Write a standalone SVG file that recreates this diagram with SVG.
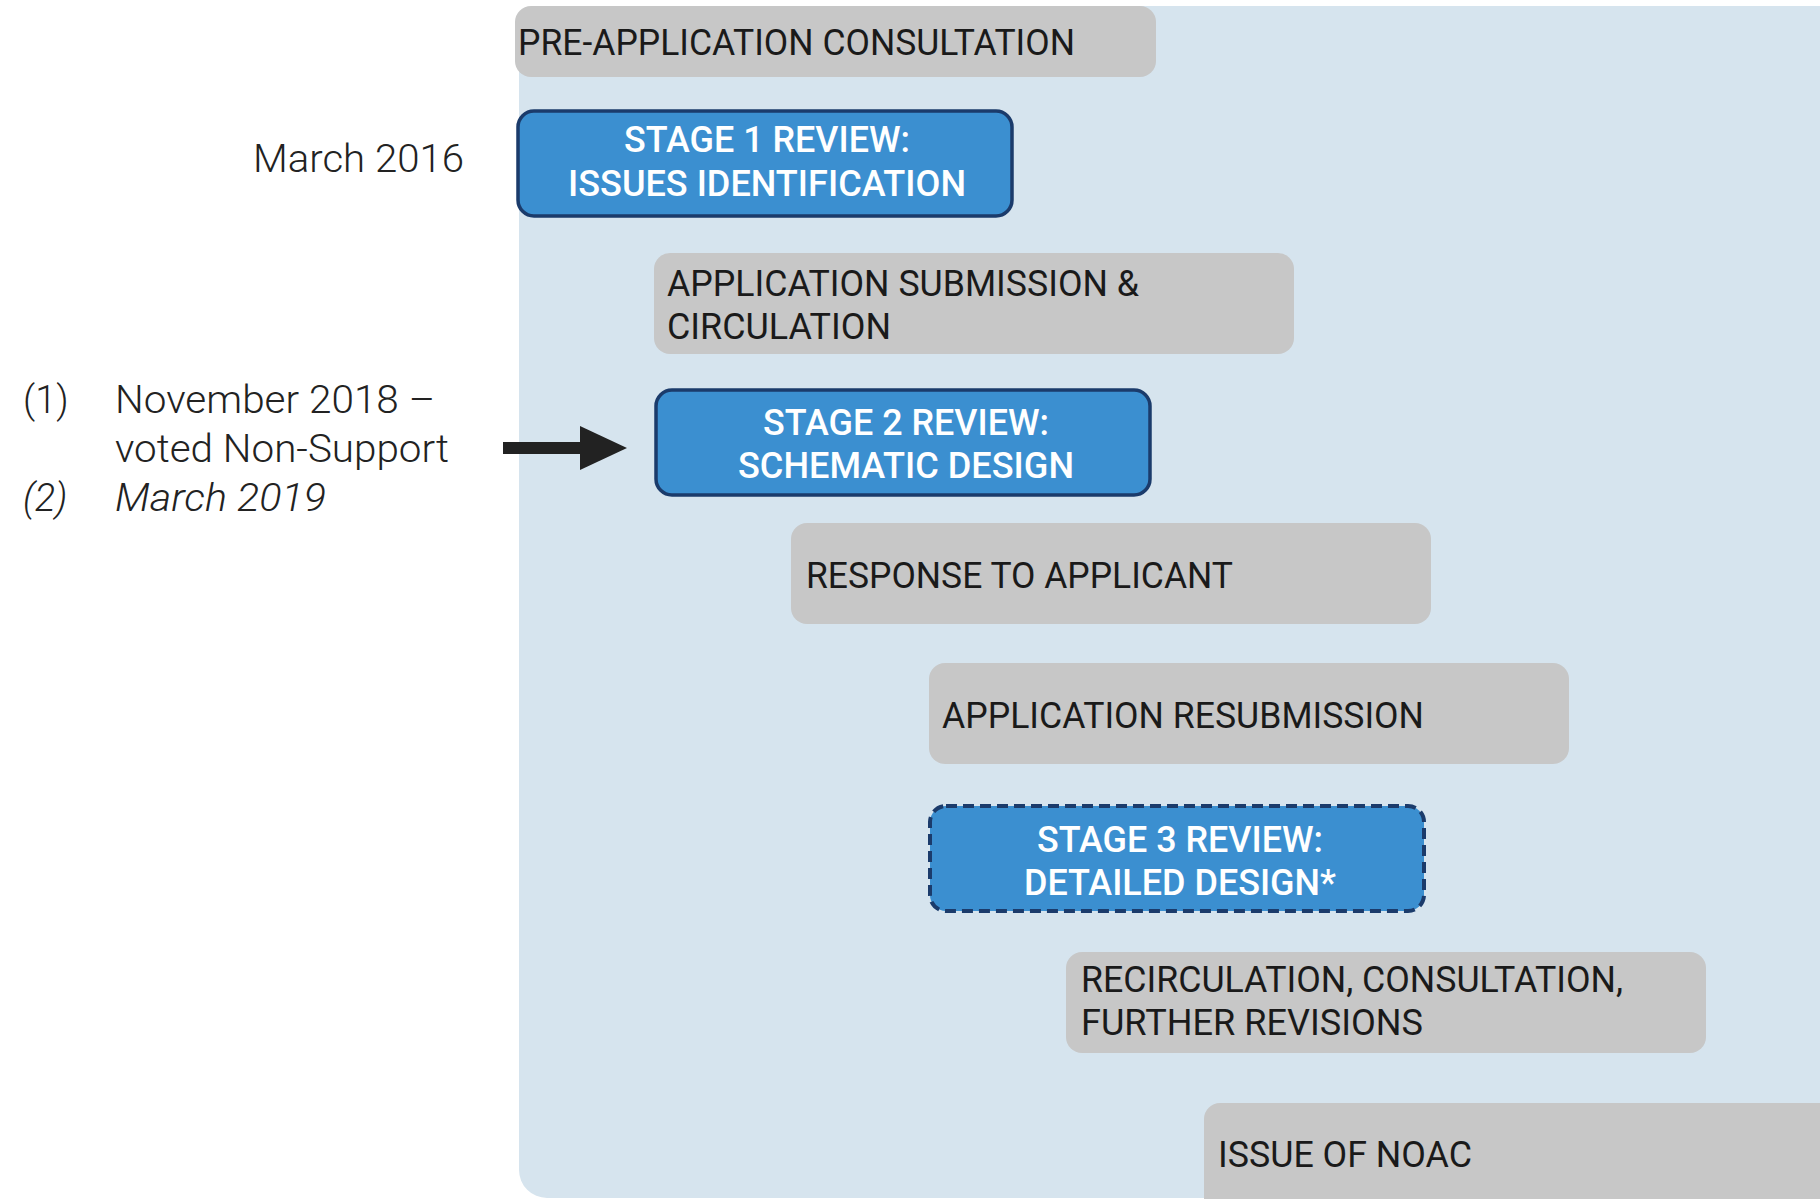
<svg xmlns="http://www.w3.org/2000/svg" width="1820" height="1199" viewBox="0 0 1820 1199">
<style>
.bg{fill:#d6e4ee}
.gbox{fill:#c7c7c7}
.bbox{fill:#3b8fd0;stroke:#1b3b6b;stroke-width:3.5}
.dash{stroke-dasharray:11 6;stroke-width:4}
.gt{font-family:Roboto,"Liberation Sans",sans-serif;font-size:37px;fill:#1a1a1a}
.wt{font-family:Roboto,"Liberation Sans",sans-serif;font-size:37px;font-weight:500;fill:#ffffff;text-anchor:middle}
.lt{font-family:Roboto,"Liberation Sans",sans-serif;font-size:38px;font-weight:300;fill:#222222}
.it{font-style:italic;font-weight:300}
</style>
<rect x="0" y="0" width="1820" height="1199" fill="#ffffff"/>
<rect class="bg" x="519" y="6" width="1400" height="1192" rx="28"/>
<g id="pre-application">
<rect class="gbox" x="515" y="6" width="641" height="71" rx="16"/>
<text class="gt" x="518" y="55" textLength="557" lengthAdjust="spacingAndGlyphs">PRE-APPLICATION CONSULTATION</text>
</g>
<g id="stage1">
<rect class="bbox" x="518" y="111" width="494" height="105" rx="16"/>
<text class="wt" x="767" y="152" textLength="286" lengthAdjust="spacingAndGlyphs">STAGE 1 REVIEW:</text>
<text class="wt" x="767" y="196" textLength="398" lengthAdjust="spacingAndGlyphs">ISSUES IDENTIFICATION</text>
</g>
<g id="application-submission">
<rect class="gbox" x="654" y="253" width="640" height="101" rx="16"/>
<text class="gt" x="667" y="296" textLength="472" lengthAdjust="spacingAndGlyphs">APPLICATION SUBMISSION &amp;</text>
<text class="gt" x="667" y="339" textLength="224" lengthAdjust="spacingAndGlyphs">CIRCULATION</text>
</g>
<g id="stage2">
<rect class="bbox" x="656" y="390" width="494" height="105" rx="16"/>
<text class="wt" x="906" y="435" textLength="286" lengthAdjust="spacingAndGlyphs">STAGE 2 REVIEW:</text>
<text class="wt" x="906" y="478" textLength="336" lengthAdjust="spacingAndGlyphs">SCHEMATIC DESIGN</text>
</g>
<g id="response">
<rect class="gbox" x="791" y="523" width="640" height="101" rx="16"/>
<text class="gt" x="806" y="588" textLength="427" lengthAdjust="spacingAndGlyphs">RESPONSE TO APPLICANT</text>
</g>
<g id="resubmission">
<rect class="gbox" x="929" y="663" width="640" height="101" rx="16"/>
<text class="gt" x="942" y="728" textLength="482" lengthAdjust="spacingAndGlyphs">APPLICATION RESUBMISSION</text>
</g>
<g id="stage3">
<rect class="bbox dash" x="930" y="806" width="494" height="105" rx="16"/>
<text class="wt" x="1180" y="852" textLength="286" lengthAdjust="spacingAndGlyphs">STAGE 3 REVIEW:</text>
<text class="wt" x="1180" y="895" textLength="312" lengthAdjust="spacingAndGlyphs">DETAILED DESIGN*</text>
</g>
<g id="recirculation">
<rect class="gbox" x="1066" y="952" width="640" height="101" rx="16"/>
<text class="gt" x="1081" y="992" textLength="542" lengthAdjust="spacingAndGlyphs">RECIRCULATION, CONSULTATION,</text>
<text class="gt" x="1081" y="1035" textLength="342" lengthAdjust="spacingAndGlyphs">FURTHER REVISIONS</text>
</g>
<g id="noac">
<rect class="gbox" x="1204" y="1103" width="660" height="130" rx="16"/>
<text class="gt" x="1218" y="1167" textLength="254" lengthAdjust="spacingAndGlyphs">ISSUE OF NOAC</text>
</g>
<g id="notes">
<text class="lt" x="464" y="172" text-anchor="end" textLength="211" lengthAdjust="spacingAndGlyphs">March 2016</text>
<text class="lt" x="23" y="413">(1)</text>
<text class="lt" x="115" y="413" textLength="320" lengthAdjust="spacingAndGlyphs">November 2018 –</text>
<text class="lt" x="115" y="462" textLength="334" lengthAdjust="spacingAndGlyphs">voted Non-Support</text>
<text class="lt it" x="23" y="511">(2)</text>
<text class="lt it" x="115" y="511" textLength="211" lengthAdjust="spacingAndGlyphs">March 2019</text>
</g>
<g id="connectors">
<rect x="503" y="442" width="80" height="12" fill="#222222"/>
<polygon points="580,426 627,448 580,470" fill="#222222"/>
</g>
</svg>
